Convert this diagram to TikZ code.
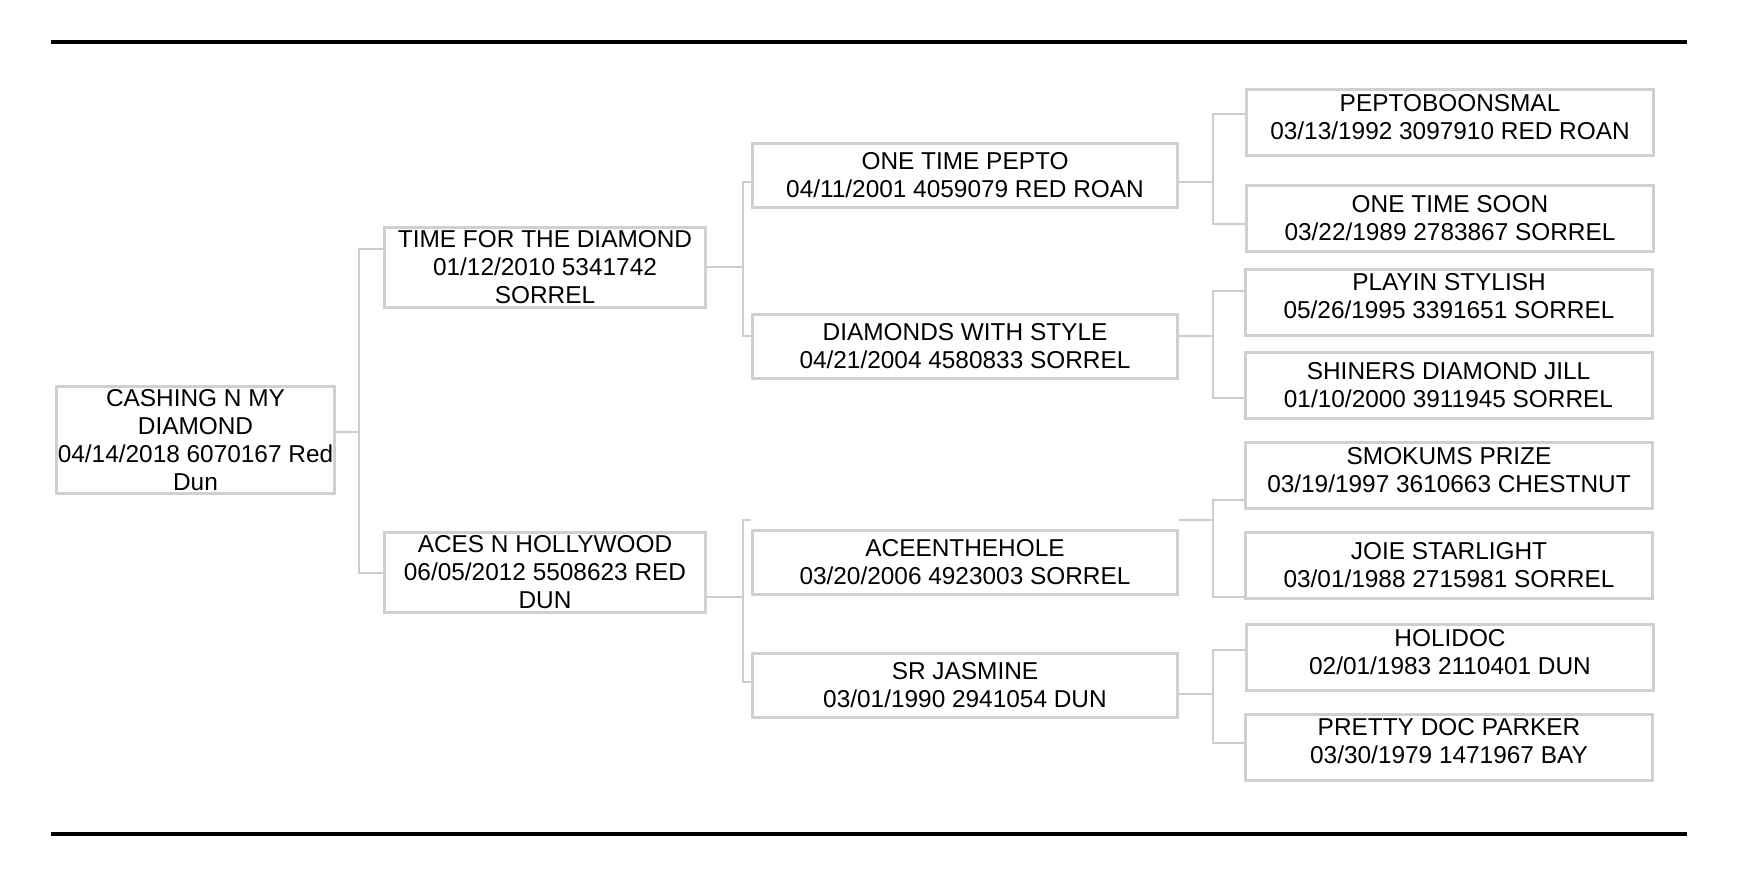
\documentclass[tikz,border=0pt]{standalone}
\usepackage{fontspec}
\setmainfont{Liberation Sans}
\definecolor{boxgray}{RGB}{208,208,208}
\definecolor{linegray}{RGB}{205,205,205}
\tikzset{
  horse/.style={draw=boxgray, line width=1.5pt, fill=white, align=center, inner sep=0pt,
    font=\fontsize{12.2}{14}\selectfont},
  gen0/.style={horse, minimum width=139pt, minimum height=53.5pt},
  gen1/.style={horse, minimum width=160.5pt, minimum height=40pt},
  gen2/.style={horse, minimum width=212.5pt, minimum height=32pt},
  gen3/.style={horse, minimum width=203.5pt, minimum height=33pt},
  lifted/.style={text depth=6pt},
  link/.style={draw=linegray, line width=0.7pt}
}

\begin{document}
\begin{tikzpicture}[x=0.5pt, y=-0.5pt]
    \useasboundingbox (0,0) rectangle (1738,880);
    \draw[line width=2pt] (51,42) -- (1687,42);
    \draw[line width=2pt] (51,834) -- (1687,834);
    \node[gen0] (cash) at (195.5,440) {CASHING N MY\\DIAMOND\\04/14/2018 6070167 Red\\Dun};
    \node[gen1] (time) at (545,267.5) {TIME FOR THE DIAMOND\\01/12/2010 5341742\\SORREL};
    \node[gen1] (aces) at (545,572) {ACES N HOLLYWOOD\\06/05/2012 5508623 RED\\DUN};
    \node[gen2] (pepto) at (965,175) {ONE TIME PEPTO\\04/11/2001 4059079 RED ROAN};
    \node[gen2] (style) at (965,346) {DIAMONDS WITH STYLE\\04/21/2004 4580833 SORREL};
    \node[gen2] (hole) at (965,562) {ACEENTHEHOLE\\03/20/2006 4923003 SORREL};
    \node[gen2] (jasmine) at (965,685) {SR JASMINE\\03/01/1990 2941054 DUN};
    \node[gen3, lifted] (boonsmal) at (1450,122.5) {PEPTOBOONSMAL\\03/13/1992 3097910 RED ROAN};
    \node[gen3] (soon) at (1450,218) {ONE TIME SOON\\03/22/1989 2783867 SORREL};
    \node[gen3, lifted] (playin) at (1449,302) {PLAYIN STYLISH\\05/26/1995 3391651 SORREL};
    \node[gen3] (shiners) at (1448.5,385) {SHINERS DIAMOND JILL\\01/10/2000 3911945 SORREL};
    \node[gen3, lifted] (smokums) at (1449,475.5) {SMOKUMS PRIZE\\03/19/1997 3610663 CHESTNUT};
    \node[gen3] (joie) at (1449,565) {JOIE STARLIGHT\\03/01/1988 2715981 SORREL};
    \node[gen3, lifted] (holidoc) at (1450,657.5) {HOLIDOC\\02/01/1983 2110401 DUN};
    \node[gen3, lifted] (parker) at (1449,747) {PRETTY DOC PARKER\\03/30/1979 1471967 BAY};
    \foreach \p/\a/\b/\x/\yp/\ya/\yb in {cash/time/aces/359/432/249/573,
        time/pepto/style/743/267/182/336, aces/hole/jasmine/743/597/520/682,
        pepto/boonsmal/soon/1213/182/114/224, style/playin/shiners/1213/336/291/398,
        hole/smokums/joie/1213/520/500/597, jasmine/holidoc/parker/1213/694/650/743}
      \draw[link] (\p.east |- 0,\yp) -- (\x,\yp) (\a.west |- 0,\ya) -| (\x,\yb) -- (\b.west |- 0,\yb);
\end{tikzpicture}
\end{document}
